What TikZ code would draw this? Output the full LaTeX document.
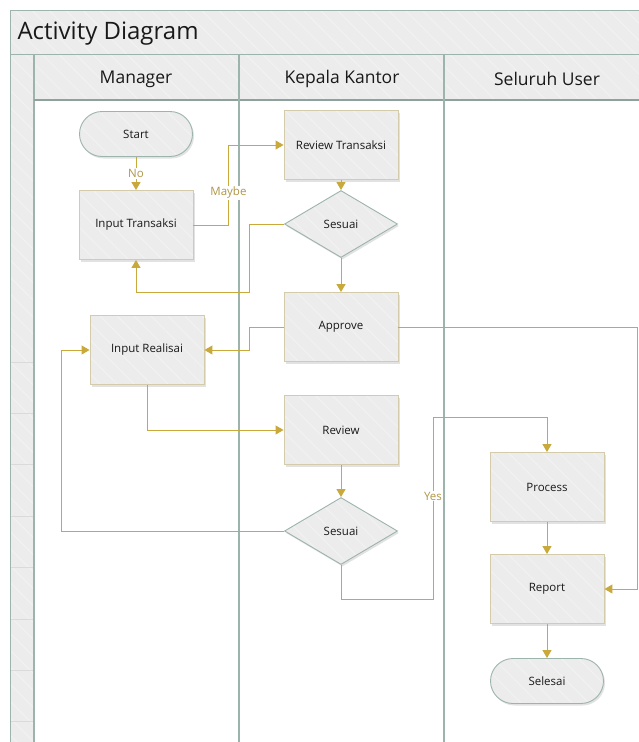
\documentclass[tikz,border=0pt]{standalone}
\usepackage{fontspec}
\setmainfont{Open Sans}
\usetikzlibrary{shapes.geometric,patterns.meta,shadows,arrows.meta,calc}

\definecolor{flowgold}{HTML}{C9A93B}
\definecolor{lblgold}{HTML}{B09646}
\definecolor{lanegreen}{HTML}{9DB4AD}
\definecolor{boxedge}{HTML}{D3CBAA}
\definecolor{shapefill}{HTML}{ECECEC}
\definecolor{hatchline}{HTML}{F2F2F2}
\definecolor{stripline}{HTML}{DADADA}

\tikzset{
  hatched/.style={preaction={fill=shapefill},
    pattern={Lines[angle=-45,distance=12pt,line width=1pt]},
    pattern color=hatchline},
  softshadow/.style={drop shadow={shadow xshift=1.5pt, shadow yshift=-2pt,
    opacity=0.16, fill=black!70}},
  nodetext/.style={font=\fontsize{11.5}{13}\selectfont, text=black!90},
  actbox/.style={rectangle, softshadow, hatched, draw=boxedge, line width=0.9pt,
    minimum width=114pt, minimum height=69pt, nodetext},
  decision/.style={diamond, softshadow, hatched, draw=lanegreen, line width=0.9pt,
    minimum width=113pt, minimum height=67pt, inner sep=0pt, nodetext},
  terminal/.style={rectangle, rounded corners=22.5pt, softshadow, hatched,
    draw=lanegreen, line width=0.9pt, minimum width=113pt, minimum height=45pt, nodetext},
  flow/.style={draw=flowgold, line width=1pt, -{Triangle[width=9pt,length=8pt]}},
  lbl/.style={fill=white, text=lblgold, inner sep=1pt,
    font=\fontsize{11.5}{13}\selectfont},
  laneline/.style={draw=lanegreen, line width=1.3pt},
  frameline/.style={draw=lanegreen, line width=0.8pt},
  lanehead/.style={font=\fontsize{17.5}{20}\selectfont, text=black!90},
}

\begin{document}
\begin{tikzpicture}[x=1pt, y=-1pt]
  \useasboundingbox (0,0) rectangle (639,742);
  \fill[white] (0,0) rectangle (639,742);

  % swimlane frame
  \begin{scope}
    \clip (0,0) rectangle (639,742);
    \path[hatched] (10,10) rectangle (680,54);
    \path[hatched] (10,54) rectangle (34,780);
    \path[hatched] (34,54) rectangle (680,100);
    \foreach \yy in {0,...,7}
      \draw[stripline, line width=0.8pt] (11,362+51.4*\yy) -- (33,362+51.4*\yy);
    \draw[frameline] (10,10) rectangle (680,780);
    \draw[frameline] (10,54) -- (680,54);
    \draw[laneline] (34,54) -- (34,780);
    \draw[draw=lanegreen!90!black, line width=1.8pt] (34,100) -- (680,100);
    \draw[laneline] (239,54) -- (239,780);
    \draw[laneline] (444,54) -- (444,780);

    \node[anchor=west, font=\fontsize{24}{28}\selectfont, text=black!90] (title) at (14,34) {Activity Diagram};
    \node[lanehead] (laneA) at (136,79) {Manager};
    \node[lanehead] (laneB) at (342,79) {Kepala Kantor};
    \node[lanehead] (laneC) at (547,79) {Seluruh User};
  \end{scope}

  % activities
  \node[terminal] (start) at (136,134) {Start};
  \node[actbox]   (it)    at (136,225) {Input Transaksi};
  \node[actbox]   (rt)    at (341,145) {Review Transaksi};
  \node[decision] (s1)    at (341,224) {Sesuai};
  \node[actbox]   (ap)    at (341,327) {Approve};
  \node[actbox]   (ir)    at (147,350) {Input Realisai};
  \node[actbox]   (rv)    at (341,430) {Review};
  \node[decision] (s2)    at (341,531) {Sesuai};
  \node[actbox]   (pr)    at (547,487) {Process};
  \node[actbox]   (rp)    at (547,589) {Report};
  \node[terminal] (se)    at (547,681) {Selesai};

  % flows
  \draw[flow] (start) -- node[lbl]{No} (it);
  \draw[flow] (it.east) -- ++(35,0) |- node[lbl, pos=0.2]{Maybe} (rt.west);
  \draw[flow] (rt) -- (s1);
  \draw[flow] (s1.west) -- ++(-35,0) |- ($(it.south)+(0,33)$) -- (it.south);
  \draw[flow] (s1) -- (ap);
  \draw[flow] (ap.west) -- ++(-34,0) |- (ir.east);
  \draw[flow] (ap.east) -- ++(239,0) |- (rp.east);
  \draw[flow] (ir.south) |- (rv.west);
  \draw[flow] (rv) -- (s2);
  \draw[flow] (s2.west) -- ++(-223,0) |- (ir.west);
  \draw[flow] (s2.south) -- ++(0,35) -- ++(92,0)
     -- node[lbl, pos=0.57]{Yes} ++(0,-182) -| (pr.north);
  \draw[flow] (pr) -- (rp);
  \draw[flow] (rp) -- (se);
\end{tikzpicture}
\end{document}
